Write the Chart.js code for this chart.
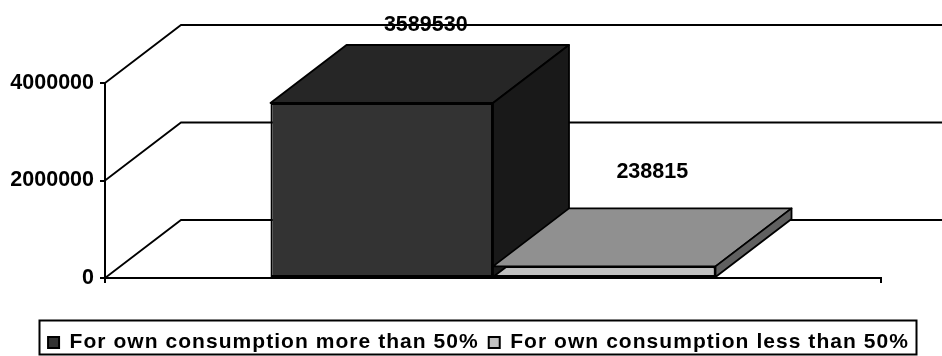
<!DOCTYPE html>
<html>
<head>
<meta charset="utf-8">
<script src="https://cdn.jsdelivr.net/npm/chart.js@4/dist/chart.umd.min.js"></script>
<style>
  html, body { margin: 0; padding: 0; background: #fff; }
  canvas { display: block; }
</style>
</head>
<body>
<canvas id="resultChart" width="942" height="356"></canvas>
<script>
// Chart data

const categories = [""];
const seriesNames = ["For own consumption more than 50%", "For own consumption less than 50%"];
const seriesValues = [[3589530], [238815]];
const yTicks = [0, 2000000, 4000000];

// Face colours: front, top, side

const frontColors = ["#333333", "#c0c0c0"];
const topColors = ["#262626", "#909090"];
const sideColors = ["#191919", "#606060"];

// Depth of the box and where the value labels sit relative to the bar top

const depthX = 76;
const depthY = 58;
const labelOffsetX = [44, 48];
const labelOffsetY = [78, 94];

const fontFamily = "'Liberation Sans', Arial, sans-serif";
const legendSpacing = "1.05px";

function polygon(ctx, points, fill) {
  ctx.beginPath();
  points.forEach(function (p, i) {
    if (i === 0) ctx.moveTo(p[0], p[1]);
    else ctx.lineTo(p[0], p[1]);
  });
  ctx.closePath();
  if (fill) {
    ctx.fillStyle = fill;
    ctx.fill();
  }
  ctx.stroke();
}

// Floor and back wall lines, drawn behind the bars
const wallPlugin = {
  id: "wall",
  beforeDatasetsDraw(chart) {
    const ctx = chart.ctx;
    const x = chart.scales.x;
    const y = chart.scales.y;
    ctx.save();
    ctx.strokeStyle = "#000";
    ctx.lineWidth = 1.8;
    yTicks.forEach(function (value) {
      const py = y.getPixelForValue(value);
      ctx.beginPath();
      ctx.moveTo(x.left, py);
      ctx.lineTo(x.left + depthX, py - depthY);
      ctx.lineTo(x.right + depthX, py - depthY);
      ctx.stroke();
    });
    ctx.restore();
  },
};

// Top and side faces of each bar, then the value labels
const boxPlugin = {
  id: "box",
  afterDatasetsDraw(chart) {
    const ctx = chart.ctx;
    ctx.save();
    ctx.strokeStyle = "#000";
    ctx.lineWidth = 1.8;
    ctx.lineJoin = "round";
    seriesValues.forEach(function (values, i) {
      const bar = chart.getDatasetMeta(i).data[0];
      const half = bar.width / 2;
      const l = bar.x - half;
      const r = bar.x + half;
      const t = bar.y;
      const b = bar.base;
      polygon(ctx, [[l, t], [r, t], [r + depthX, t - depthY], [l + depthX, t - depthY]], topColors[i]);
      polygon(ctx, [[r, t], [r + depthX, t - depthY], [r + depthX, b - depthY], [r, b]], sideColors[i]);
    });
    ctx.font = "bold 21.5px " + fontFamily;
    ctx.fillStyle = "#000";
    ctx.textAlign = "center";
    ctx.textBaseline = "middle";
    seriesValues.forEach(function (values, i) {
      const bar = chart.getDatasetMeta(i).data[0];
      ctx.fillText(String(values[0]), bar.x + labelOffsetX[i], bar.y - labelOffsetY[i]);
    });
    ctx.restore();
  },
};

// Legend text is spaced out a little, centred on the page, with a frame round it
const legendFramePlugin = {
  id: "legendFrame",
  beforeLayout(chart) {
    const legend = chart.legend;
    if (legend.spaced) return;
    legend.spaced = true;
    ["fit", "draw"].forEach(function (name) {
      const original = legend[name];
      legend[name] = function () {
        chart.ctx.letterSpacing = legendSpacing;
        legend.maxWidth = chart.width;
        original.apply(legend, arguments);
        chart.ctx.letterSpacing = "0px";
      };
    });
  },
  afterLayout(chart) {
    chart.legend.left = 0;
    chart.legend.right = 957;
    chart.legend.top += 8;
    chart.legend.bottom += 8;
  },
  afterDraw(chart) {
    const ctx = chart.ctx;
    ctx.save();
    ctx.strokeStyle = "#000";
    ctx.lineWidth = 2;
    ctx.strokeRect(39.5, 320.5, 877, 34);
    ctx.restore();
  },
};

const ctx = document.getElementById("resultChart").getContext("2d");
const resultChart = new Chart(ctx, {
  type: "bar",
  data: {
    labels: categories,
    datasets: seriesNames.map(function (name, i) {
      return {
        label: name,
        data: seriesValues[i],
        backgroundColor: frontColors[i],
        borderColor: "#000",
        borderWidth: 2,
        borderSkipped: false,
        categoryPercentage: 0.5735,
        barPercentage: 1,
      };
    }),
  },
  options: {
    responsive: false,
    animation: false,
    layout: { padding: { left: 0, right: 61, top: 83, bottom: 1 } },
    scales: {
      x: {
        grid: { display: true, offset: true, drawOnChartArea: false, drawTicks: true, tickLength: 5, color: "#000", lineWidth: 2 },
        border: { display: true, color: "#000", width: 2 },
        ticks: { display: false },
        afterFit(axis) {
          axis.height = 36;
        },
      },
      y: {
        min: yTicks[0],
        max: yTicks[yTicks.length - 1],
        afterBuildTicks(axis) {
          axis.ticks = yTicks.map(function (v) { return { value: v }; });
        },
        grid: { drawOnChartArea: false, drawTicks: true, tickLength: 5, color: "#000", lineWidth: 2 },
        border: { display: true, color: "#000", width: 2 },
        ticks: {
          color: "#000",
          padding: 6,
          font: { family: fontFamily, size: 21.5, weight: "bold" },
          callback: function (value) { return String(value); },
        },
        afterFit(axis) {
          axis.width = 105;
        },
      },
    },
    plugins: {
      tooltip: { enabled: false },
      legend: {
        position: "bottom",
        labels: {
          color: "#000",
          boxWidth: 11,
          boxHeight: 11,
          padding: 10,
          font: { family: fontFamily, size: 21, weight: "bold" },
        },
      },
    },
  },
  plugins: [wallPlugin, boxPlugin, legendFramePlugin],
});
</script>
</body>
</html>
